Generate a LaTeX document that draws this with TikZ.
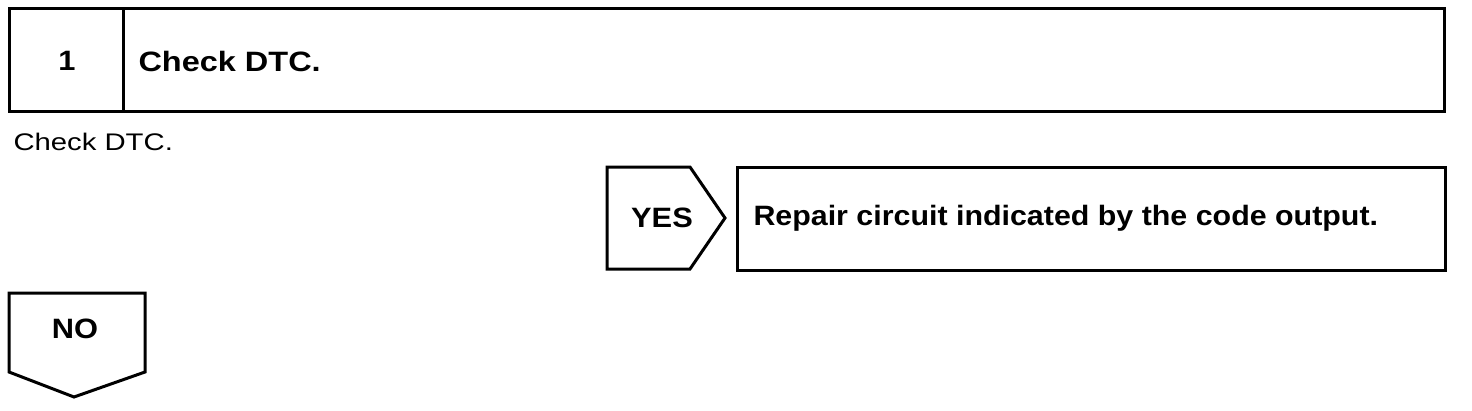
\documentclass[tikz,border=0pt]{standalone}
\usepackage{fontspec}
\setmainfont{Liberation Sans}
\newfontfamily\boldwide[FakeStretch=1.1]{Liberation Sans Bold}
\newfontfamily\boldwider[FakeStretch=1.16]{Liberation Sans Bold}
\newfontfamily\boldrep[FakeStretch=1.085]{Liberation Sans Bold}
\newfontfamily\regwide[FakeStretch=1.22]{Liberation Sans}
\begin{document}
\begin{tikzpicture}[x=1pt,y=-1pt,line width=3pt,
  frame/.style={draw=black,line width=3pt,inner sep=0pt,outer sep=0pt},
  bt/.style={inner sep=0pt,font=\boldwide\fontsize{28}{30}\selectfont},
  rt/.style={inner sep=0pt,font=\regwide\fontsize{24}{26}\selectfont}]
\useasboundingbox (0,0) rectangle (1472,410);
% header
\node[frame,minimum width=114pt,minimum height=103pt,anchor=north west] (numbox) at (9,8) {};
\node[frame,minimum width=1321pt,minimum height=103pt,anchor=north west] (titlebox) at (123,8) {};
\node[bt] (num) at (67,61) {1};
\node[bt,anchor=west,font=\boldwider\fontsize{28}{30}\selectfont] (title) at (137,61) {Check DTC.};
\node[rt,anchor=west] (sub) at (12,142) {Check DTC.};
% YES
\coordinate (y1) at (607,167);
\coordinate (y2) at (690,167);
\coordinate (y3) at (725,218);
\coordinate (y4) at (690,269);
\coordinate (y5) at (607,269);
\draw[line join=miter] (y1) -- (y2) -- (y3) -- (y4) -- (y5) -- cycle;
\node[bt] (yes) at (662,218) {YES};
\node[frame,minimum width=708pt,minimum height=103pt,anchor=north west] (repairbox) at (737,167) {};
\node[bt,anchor=west,font=\boldrep\fontsize{28}{30}\selectfont] (repair) at (752,218) {Repair circuit indicated by the code output.};
% NO
\coordinate (n1) at (9,293);
\coordinate (n2) at (145,293);
\coordinate (n3) at (145,372);
\coordinate (n4) at (74,397);
\coordinate (n5) at (9,372);
\draw[line join=miter] (n1) -- (n2) -- (n3) -- (n4) -- (n5) -- cycle;
\node[bt] (no) at (75,329) {NO};
\end{tikzpicture}
\end{document}
